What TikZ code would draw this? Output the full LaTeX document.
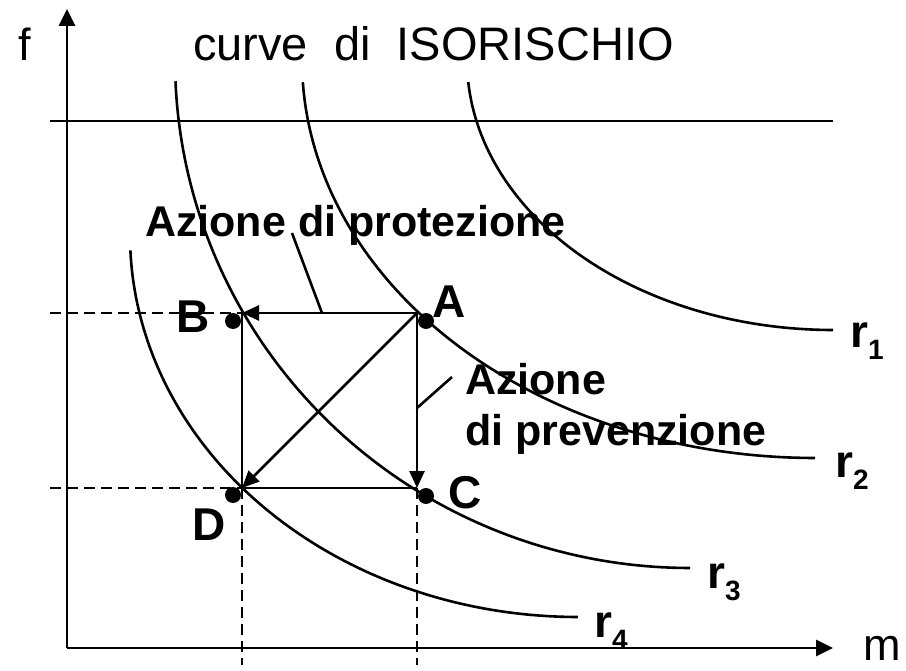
\documentclass[tikz,border=0pt]{standalone}
\usepackage{fontspec}
\setmainfont{Liberation Sans}
\usetikzlibrary{arrows.meta}
\begin{document}
\begin{tikzpicture}[x=1pt,y=-1pt,
  ln/.style={line width=2.6pt},
  dsh/.style={line width=2.4pt, dash pattern=on 11pt off 6pt},
  arr/.style={ln, -{Triangle[length=17pt,width=15pt]}},
  axarr/.style={line width=2.8pt, -{Triangle[length=17pt,width=16pt]}},
  dotnode/.style={circle, fill=black, inner sep=0pt, minimum size=16pt},
  plain/.style={font=\fontsize{47}{52}\selectfont, inner sep=0pt},
  axlbl/.style={font=\fontsize{45}{48}\selectfont, inner sep=0pt},
  lbl/.style={font=\bfseries\fontsize{43}{48}\selectfont, inner sep=0pt},
  ptlbl/.style={font=\bfseries\fontsize{46}{50}\selectfont, inner sep=0pt},
  rlbl/.style={font=\bfseries\fontsize{46}{52}\selectfont, inner sep=0pt}]
\useasboundingbox (0,0) rectangle (906,671);
\newcommand\sub[1]{\raisebox{-12pt}{\fontsize{28}{30}\selectfont #1}}
% axes
\coordinate (O) at (67,648);
\coordinate (ytip) at (67,9);
\coordinate (xtip) at (833,648);
\draw[axarr] (O) -- (ytip);
\draw[axarr] (O) -- (xtip);
\node[axlbl, anchor=base] (f) at (25,61) {f};
\node[axlbl, anchor=base west] (m) at (863,660) {m};
% top line
\coordinate (h1) at (50,121);
\coordinate (h2) at (833,121);
\draw[ln] (h1) -- (h2);
\node[plain, anchor=base west] (title) at (193,61) {curve\ \ di\ \ ISORISCHIO};
% iso-risk curves (elliptic arcs)
\draw[ln] plot[domain=4.7:90, samples=90] ({833-366*cos(\x)}, {60+270*sin(\x)});
\draw[ln] plot[domain=3.2:90, samples=90] ({815-513*cos(\x)}, {60+398*sin(\x)});
\draw[ln] plot[domain=2.4:90, samples=90] ({690-515*cos(\x)}, {60+508*sin(\x)});
\draw[ln] plot[domain=2.3:90, samples=90] ({578-448*cos(\x)}, {235+382*sin(\x)});
\node[rlbl, anchor=base west] (r1) at (850,348) {r\sub{1}};
\node[rlbl, anchor=base west] (r2) at (835,477) {r\sub{2}};
\node[rlbl, anchor=base west] (r3) at (707,588) {r\sub{3}};
\node[rlbl, anchor=base west] (r4) at (594,637) {r\sub{4}};
% corners
\coordinate (a) at (417,313);
\coordinate (b) at (242,313);
\coordinate (c) at (417,488);
\coordinate (d) at (242,488);
% dashed projections
\coordinate (bl) at (50,313);
\coordinate (dl) at (50,488);
\coordinate (db) at (242,665);
\coordinate (cb) at (417,665);
\draw[dsh] (bl) -- (b);
\draw[dsh] (dl) -- (d);
\draw[dsh] (d) -- (db);
\draw[dsh] (c) -- (cb);
% moves
\draw[ln] (b) -- (d);
\draw[ln] (d) -- (c);
\draw[arr] (a) -- (b);
\draw[arr] (a) -- (c);
\draw[arr] (a) -- (d);
% points
\node[dotnode] (A) at (426,321) {};
\node[dotnode] (B) at (233,321) {};
\node[dotnode] (C) at (426,496) {};
\node[dotnode] (D) at (233,495) {};
\node[ptlbl, anchor=base west] (la) at (432,318) {A};
\node[ptlbl, anchor=base west] (lb) at (176,333) {B};
\node[ptlbl, anchor=base west] (lc) at (448,508) {C};
\node[ptlbl, anchor=base west] (ld) at (192,540) {D};
% action labels
\node[lbl, anchor=base west] (prot) at (145,237) {Azione di protezione};
\node[lbl, anchor=base west] (prev1) at (465,395) {Azione};
\node[lbl, anchor=base west] (prev2) at (465,446) {di prevenzione};
\coordinate (p1) at (292,233);
\coordinate (p1e) at (322,313);
\draw[ln] (p1) -- (p1e);
\coordinate (p2) at (452,377);
\coordinate (p2e) at (417,408);
\draw[ln] (p2) -- (p2e);
\end{tikzpicture}
\end{document}
